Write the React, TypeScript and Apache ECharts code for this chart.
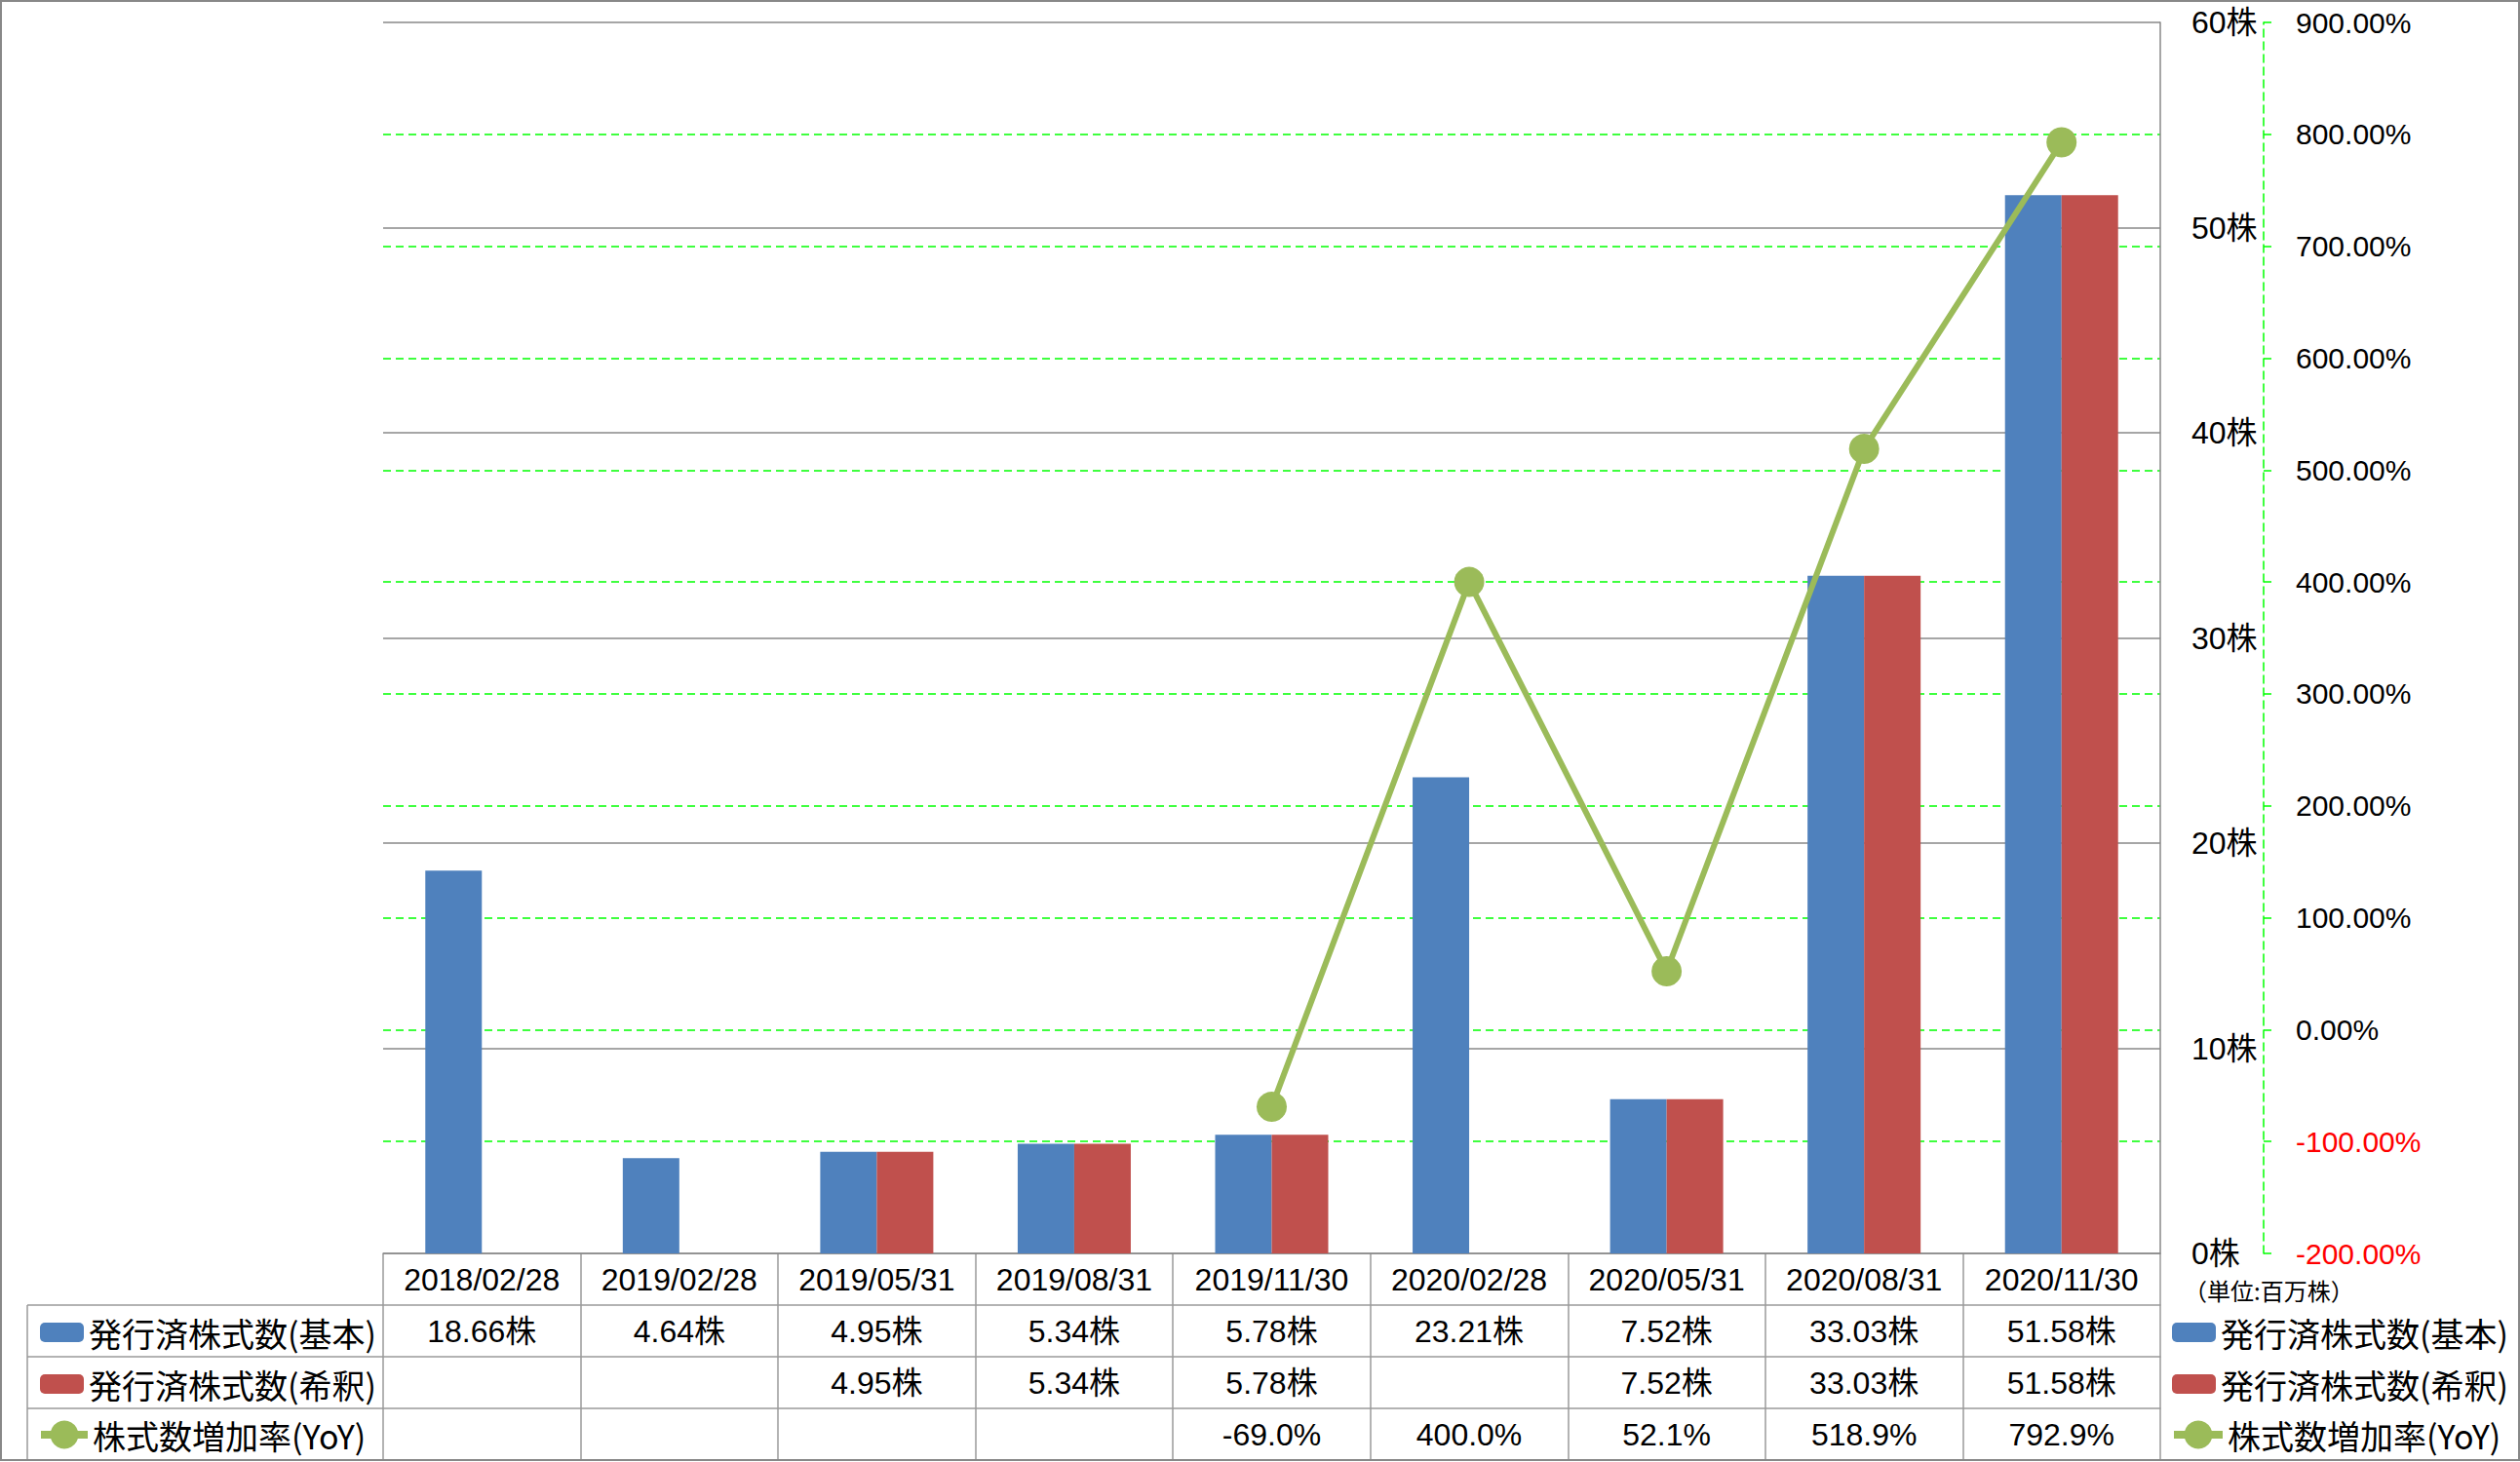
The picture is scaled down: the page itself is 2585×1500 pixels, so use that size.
import React, { useEffect, useRef } from "react";
import * as echarts from "echarts";

const categories = [
  "2018/02/28",
  "2019/02/28",
  "2019/05/31",
  "2019/08/31",
  "2019/11/30",
  "2020/02/28",
  "2020/05/31",
  "2020/08/31",
  "2020/11/30",
];
const basicShares = [18.66, 4.64, 4.95, 5.34, 5.78, 23.21, 7.52, 33.03, 51.58];
const dilutedShares = [null, null, 4.95, 5.34, 5.78, null, 7.52, 33.03, 51.58];
const yoyGrowth = [null, null, null, null, -69.0, 400.0, 52.1, 518.9, 792.9];

const seriesNames = ["発行済株式数(基本)", "発行済株式数(希釈)", "株式数増加率(YoY)"];
const unitLabel = "（単位:百万株）";

const FONT = "'Liberation Sans', 'Noto Sans CJK JP', sans-serif";
const CJK_FONT = "'Noto Sans CJK JP', 'Liberation Sans', sans-serif";
const TABLE_LINE = { color: "#9a9a9a", width: 1.5 };

const fmtShares = (v: number | null) => (v == null ? "" : v.toFixed(2) + "株");
const fmtPct = (v: number | null) => (v == null ? "" : v.toFixed(1) + "%");

function tableAxis(offset: number, texts: string[]) {
  return {
    type: "category",
    data: categories,
    position: "bottom",
    offset,
    boundaryGap: true,
    axisLine: { show: true, onZero: false, lineStyle: TABLE_LINE },
    axisTick: {
      show: true,
      length: 53,
      interval: 0,
      alignWithLabel: false,
      inside: false,
      lineStyle: TABLE_LINE,
    },
    axisLabel: {
      interval: 0,
      margin: 11,
      fontSize: 32,
      lineHeight: 32,
      color: "#000",
      fontFamily: FONT,
      formatter: (_v: string, i: number) => texts[i],
    },
    splitLine: { show: false },
  };
}

export default function App() {
  const ref = useRef<HTMLDivElement>(null);

  useEffect(() => {
    if (!ref.current) return;
    const chart = echarts.init(ref.current, null, { renderer: "svg" });

    const legendText = { fontSize: 34, lineHeight: 34, color: "#000", fontFamily: CJK_FONT };

    const option: any = {
      animation: false,
      backgroundColor: "#fff",
      grid: { left: 393, right: 369, top: 23, bottom: 214, containLabel: false },
      xAxis: [
        tableAxis(0, categories),
        tableAxis(53, basicShares.map(fmtShares)),
        tableAxis(106, dilutedShares.map(fmtShares)),
        tableAxis(159, yoyGrowth.map(fmtPct)),
      ],
      yAxis: [
        {
          type: "value",
          position: "right",
          min: 0,
          max: 60,
          interval: 10,
          z: 2,
          axisLine: { show: true, onZero: false, lineStyle: { color: "#888", width: 1.5 } },
          axisTick: { show: false },
          splitLine: { show: true, lineStyle: { color: "#888", width: 1.5 } },
          axisLabel: {
            formatter: "{value}株",
            margin: 32,
            fontSize: 32,
            color: "#000",
            fontFamily: FONT,
          },
        },
        {
          type: "value",
          position: "right",
          offset: 106,
          min: -200,
          max: 900,
          interval: 100,
          z: 1,
          axisLine: { show: true, onZero: false, lineStyle: { color: "#00ff00", width: 1.5, type: [8, 5] } },
          axisTick: { show: true, length: 11, lineStyle: { color: "#00ff00", width: 1.5, type: [8, 5] } },
          splitLine: {
            show: true,
            showMaxLine: false,
            showMinLine: false,
            lineStyle: { color: "#00ff00", width: 1.5, type: [8, 5] },
          },
          axisLabel: {
            formatter: (v: number) => Number(v).toFixed(2) + "%",
            color: (v: any) => (Number(v) < 0 ? "#ff0000" : "#000"),
            margin: 33,
            fontSize: 30,
            fontFamily: FONT,
          },
        },
      ],
      legend: [
        {
          data: [seriesNames[0], seriesNames[1]],
          orient: "vertical",
          left: 36,
          top: 1345,
          itemWidth: 45,
          itemHeight: 20,
          itemGap: 19,
          selectedMode: false,
          textStyle: legendText,
        },
        {
          data: [seriesNames[2]],
          orient: "vertical",
          left: 33,
          top: 1450,
          itemWidth: 48,
          itemHeight: 36,
          selectedMode: false,
          textStyle: legendText,
          lineStyle: { width: 8 },
        },
        {
          data: [seriesNames[0], seriesNames[1]],
          orient: "vertical",
          left: 2223,
          top: 1345,
          itemWidth: 45,
          itemHeight: 20,
          itemGap: 19,
          selectedMode: false,
          textStyle: legendText,
        },
        {
          data: [seriesNames[2]],
          orient: "vertical",
          left: 2221,
          top: 1450,
          itemWidth: 50,
          itemHeight: 36,
          selectedMode: false,
          textStyle: legendText,
          lineStyle: { width: 8 },
        },
      ],
      graphic: [
        {
          type: "rect",
          shape: { x: 1, y: 1, width: 2583, height: 1497 },
          style: { fill: "none", stroke: "#888", lineWidth: 2 },
          silent: true,
          z: 100,
        },
        ...[1339, 1392, 1445].map((y) => ({
          type: "line",
          shape: { x1: 28, y1: y, x2: 393, y2: y },
          style: { stroke: TABLE_LINE.color, lineWidth: TABLE_LINE.width },
          silent: true,
        })),
        {
          type: "line",
          shape: { x1: 28, y1: 1339, x2: 28, y2: 1498 },
          style: { stroke: TABLE_LINE.color, lineWidth: TABLE_LINE.width },
          silent: true,
        },
        {
          type: "text",
          left: 2240,
          top: 1311,
          style: { text: unitLabel, fontSize: 24, fill: "#000", fontFamily: CJK_FONT },
          silent: true,
        },
      ],
      series: [
        {
          name: seriesNames[0],
          type: "bar",
          xAxisIndex: 0,
          yAxisIndex: 0,
          data: basicShares,
          barWidth: 58,
          barGap: "0%",
          itemStyle: { color: "#4f81bd" },
        },
        {
          name: seriesNames[1],
          type: "bar",
          xAxisIndex: 0,
          yAxisIndex: 0,
          data: dilutedShares,
          barWidth: 58,
          barGap: "0%",
          itemStyle: { color: "#c0504d" },
        },
        {
          name: seriesNames[2],
          type: "line",
          xAxisIndex: 0,
          yAxisIndex: 1,
          data: yoyGrowth,
          symbol: "circle",
          symbolSize: 31,
          connectNulls: false,
          lineStyle: { color: "#9bbb59", width: 6 },
          itemStyle: { color: "#9bbb59" },
          z: 5,
        },
      ],
    };

    chart.setOption(option);
    return () => chart.dispose();
  }, []);

  return (
    <div
      ref={ref}
      style={{ position: "absolute", left: 0, top: 0, width: 2585, height: 1500 }}
    />
  );
}
